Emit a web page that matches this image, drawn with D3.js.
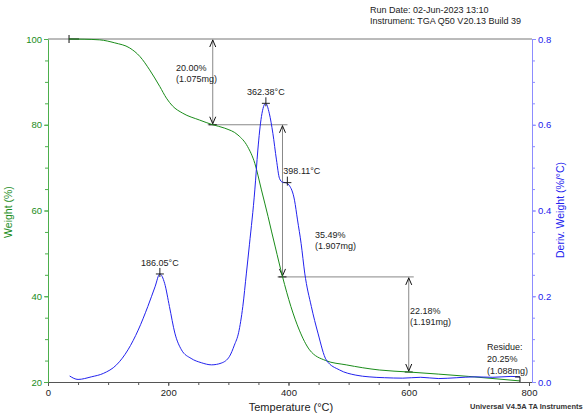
<!DOCTYPE html>
<html>
<head>
<meta charset="utf-8">
<script src="https://cdn.jsdelivr.net/npm/d3@7"></script>
<style>
  body { margin: 0; background: #fff; }
  svg { font-family: "Liberation Sans", Arial, sans-serif; }
  .ann { font-size: 9px; fill: #222; }
</style>
</head>
<body>
<svg id="chart"></svg>
<script>
// weight curve (green), temperature in degC and weight in %
const tempW = [35, 60, 86, 111, 136, 153, 169, 186, 197, 207, 224, 252, 274, 294, 316, 332, 344, 355, 366, 372, 378, 390, 404, 418, 435, 462, 496, 551, 600, 700, 785];
const weightPct = [100, 99.95, 99.8, 99.1, 97.9, 95.9, 92.8, 88.9, 86.2, 84.4, 82.7, 81.1, 80.0, 79.2, 77.6, 74.9, 71.0, 64.8, 58.6, 55.0, 51.5, 44.6, 37.6, 32.1, 27.5, 25.0, 24.0, 22.8, 22.33, 21.3, 20.25];

// derivative curve (blue), %/degC
const tempD = [36, 50, 72, 92, 114, 133, 150, 166, 178, 186, 194, 202, 211, 222, 238, 255, 272, 288, 302, 310, 317, 324, 330, 335, 344, 349, 355, 362, 368, 374, 380, 385, 390, 395, 401, 410, 415, 421, 427, 438, 449, 463, 485, 512, 534, 560, 590, 620, 650, 680, 710, 740, 770, 785];
const derivW = [0.014, 0.006, 0.012, 0.020, 0.040, 0.075, 0.121, 0.176, 0.222, 0.252, 0.230, 0.176, 0.114, 0.075, 0.055, 0.045, 0.040, 0.044, 0.060, 0.086, 0.115, 0.176, 0.254, 0.320, 0.448, 0.541, 0.619, 0.650, 0.627, 0.580, 0.518, 0.475, 0.466, 0.465, 0.459, 0.424, 0.378, 0.323, 0.254, 0.176, 0.114, 0.051, 0.028, 0.016, 0.012, 0.010, 0.009, 0.011, 0.008, 0.010, 0.012, 0.011, 0.013, 0.012];

// weight steps: [temperature of the arrow, top %, bottom %, label lines]
const steps = [
  { t: 274, from: 100, to: 80.0, lines: ["20.00%", "(1.075mg)"] },
  { t: 390, from: 80.0, to: 44.51, lines: ["35.49%", "(1.907mg)"] },
  { t: 600, from: 44.51, to: 22.33, lines: ["22.18%", "(1.191mg)"] }
];
// peaks of the derivative curve
const peaks = [
  { t: 186.05, d: 0.252, label: "186.05°C" },
  { t: 362.38, d: 0.650, label: "362.38°C" },
  { t: 398.11, d: 0.465, label: "398.11°C" }
];
const residue = ["Residue:", "20.25%", "(1.088mg)"];
const xTicks = [0, 200, 400, 600, 800];
const wTicks = [20, 40, 60, 80, 100];
const dTicks = [0, 0.2, 0.4, 0.6, 0.8];

const W = 585, H = 417;
const svg = d3.select("#chart").attr("width", W).attr("height", H);

const x = d3.scaleLinear().domain([0, 805]).range([48, 532]);
const yW = d3.scaleLinear().domain([20, 100]).range([382, 39]);
const yD = d3.scaleLinear().domain([0, 0.8]).range([382, 39]);

const green = "#1a8c1a", axisGreen = "#4caf4c", blue = "#2222ee", axisBlue = "#8c8cff";

// header
svg.append("text").attr("x", 370).attr("y", 13).attr("font-size", 9).attr("fill", "#222").text("Run Date: 02-Jun-2023 13:10");
svg.append("text").attr("x", 370).attr("y", 24).attr("font-size", 9).attr("fill", "#222").text("Instrument: TGA Q50 V20.13 Build 39");

// top line (100 %)
svg.append("line").attr("x1", 48).attr("x2", 532).attr("y1", yW(100)).attr("y2", yW(100)).attr("stroke", "#777");

// axes
const xAxis = svg.append("g").attr("transform", "translate(0,382)")
  .call(d3.axisBottom(x).tickValues(xTicks).tickSizeInner(4).tickSizeOuter(0).tickPadding(3));
xAxis.select(".domain").attr("stroke", "#555");
xAxis.selectAll(".tick line").attr("stroke", "#555");
xAxis.selectAll("text").attr("font-size", 9.5).attr("fill", "#222").attr("font-family", null);
svg.append("g").attr("transform", "translate(0,382)")
  .call(d3.axisBottom(x).tickValues(d3.range(0, 801, 50)).tickSize(3).tickFormat(""))
  .call(g => g.select(".domain").remove())
  .selectAll("line").attr("stroke", "#555");

const yAxisL = svg.append("g").attr("transform", "translate(48,0)")
  .call(d3.axisLeft(yW).tickValues(wTicks).tickSizeInner(4).tickSizeOuter(0).tickPadding(2));
yAxisL.select(".domain").attr("stroke", axisGreen);
yAxisL.selectAll(".tick line").attr("stroke", axisGreen);
yAxisL.selectAll("text").attr("font-size", 9.5).attr("fill", green).attr("font-family", null);
svg.append("g").attr("transform", "translate(48,0)")
  .call(d3.axisLeft(yW).tickValues(d3.range(20, 101, 5)).tickSize(3).tickFormat(""))
  .call(g => g.select(".domain").remove())
  .selectAll("line").attr("stroke", axisGreen);

const yAxisR = svg.append("g").attr("transform", "translate(532,0)")
  .call(d3.axisRight(yD).tickValues(dTicks).tickFormat(d3.format(".1f")).tickSizeInner(4).tickSizeOuter(0).tickPadding(2));
yAxisR.select(".domain").attr("stroke", axisBlue);
yAxisR.selectAll(".tick line").attr("stroke", axisBlue);
yAxisR.selectAll("text").attr("font-size", 9.5).attr("fill", blue).attr("font-family", null);
svg.append("g").attr("transform", "translate(532,0)")
  .call(d3.axisRight(yD).tickValues(d3.range(0, 0.801, 0.05)).tickSize(3).tickFormat(""))
  .call(g => g.select(".domain").remove())
  .selectAll("line").attr("stroke", axisBlue);

// axis titles
svg.append("text").attr("x", 291).attr("y", 411).attr("text-anchor", "middle")
  .attr("font-size", 11).attr("fill", "#222").text("Temperature (°C)");
svg.append("text").attr("transform", "translate(12,212) rotate(-90)").attr("text-anchor", "middle")
  .attr("font-size", 10.5).attr("fill", green).text("Weight (%)");
svg.append("text").attr("transform", "translate(564,210) rotate(-90)").attr("text-anchor", "middle")
  .attr("font-size", 10.5).attr("fill", blue).text("Deriv. Weight (%/°C)");
svg.append("text").attr("x", 470).attr("y", 409).attr("font-size", 7.5).attr("font-weight", "bold")
  .attr("fill", "#333").text("Universal V4.5A TA Instruments");

// step annotation lines
const grey = "#888";
steps.forEach((s, i) => {
  const xs = x(s.t);
  svg.append("line").attr("x1", xs).attr("x2", xs).attr("y1", yW(s.from)).attr("y2", yW(s.to)).attr("stroke", grey);
  // horizontal line at the bottom of the step, reaching over the next step
  const xEnd = i < steps.length - 1 ? x(steps[i + 1].t) + 5 : xs + 4;
  if (i < steps.length - 1)
    svg.append("line").attr("x1", xs - 5).attr("x2", xEnd).attr("y1", yW(s.to)).attr("y2", yW(s.to)).attr("stroke", grey);
  // arrow heads
  const up = yW(s.from), dn = yW(s.to);
  svg.append("path").attr("d", `M${xs - 3},${up + 8}L${xs},${up + 1}L${xs + 3},${up + 8}`).attr("fill", "none").attr("stroke", "#111");
  svg.append("path").attr("d", `M${xs - 3},${dn - 8}L${xs},${dn - 1}L${xs + 3},${dn - 8}`).attr("fill", "none").attr("stroke", "#111");
  svg.append("line").attr("x1", xs - 4).attr("x2", xs + 4).attr("y1", dn).attr("y2", dn).attr("stroke", "#111");
});
// start marker
svg.append("line").attr("x1", x(tempW[0])).attr("x2", x(tempW[0])).attr("y1", yW(100) - 4).attr("y2", yW(100) + 4).attr("stroke", "#111");
svg.append("line").attr("x1", x(tempW[0])).attr("x2", x(tempW[0]) + 10).attr("y1", yW(100)).attr("y2", yW(100)).attr("stroke", "#111");

// step labels
const stepLabelPos = [[176, 71], [315, 238], [410, 314]];
steps.forEach((s, i) => {
  const t = svg.append("text").attr("class", "ann").attr("x", stepLabelPos[i][0]).attr("y", stepLabelPos[i][1]);
  s.lines.forEach((l, j) => t.append("tspan").attr("x", stepLabelPos[i][0]).attr("dy", j ? 11 : 0).text(l));
});

// curves
const lineW = d3.line().x((d, i) => x(tempW[i])).y(d => yW(d)).curve(d3.curveMonotoneX);
svg.append("path").datum(weightPct).attr("d", lineW).attr("fill", "none").attr("stroke", green).attr("stroke-width", 1);

const lineD = d3.line().x((d, i) => x(tempD[i])).y(d => yD(d)).curve(d3.curveMonotoneX);
svg.append("path").datum(derivW).attr("d", lineD).attr("fill", "none").attr("stroke", blue).attr("stroke-width", 1);

// peak markers and labels
peaks.forEach((p, i) => {
  const px = x(p.t), py = yD(p.d);
  svg.append("line").attr("x1", px).attr("x2", px).attr("y1", py - 6).attr("y2", py + 3).attr("stroke", "#222");
  svg.append("line").attr("x1", px - 4).attr("x2", px + 4).attr("y1", py).attr("y2", py).attr("stroke", "#222");
  if (i < 2)
    svg.append("text").attr("class", "ann").attr("x", px).attr("y", py - 8).attr("text-anchor", "middle").text(p.label);
  else
    svg.append("text").attr("class", "ann").attr("x", px - 4).attr("y", py - 9).text(p.label);
});

// residue
const xr = x(tempW[tempW.length - 1]);
svg.append("line").attr("x1", xr).attr("x2", xr).attr("y1", yW(20.25) - 4).attr("y2", 382).attr("stroke", "#111");
svg.append("line").attr("x1", xr - 5).attr("x2", xr).attr("y1", yW(20.25) - 4).attr("y2", yW(20.25) - 4).attr("stroke", "#111");
const rt = svg.append("text").attr("class", "ann").attr("x", 487).attr("y", 350);
residue.forEach((l, j) => rt.append("tspan").attr("x", 487).attr("dy", j ? 12 : 0).text(l));
</script>
</body>
</html>
